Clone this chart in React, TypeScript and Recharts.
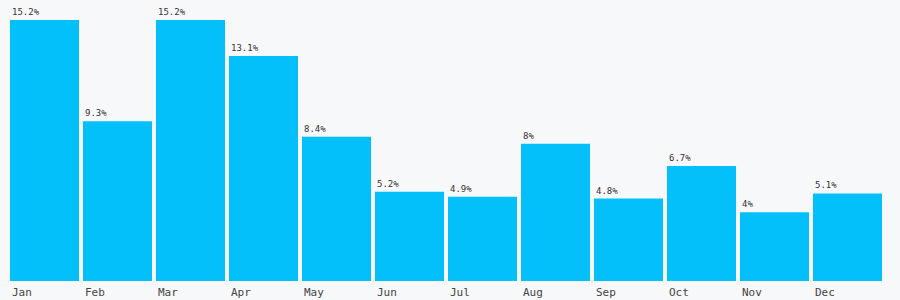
import React from "react";
import { BarChart, Bar, XAxis, YAxis, LabelList } from "recharts";

const months = ["Jan", "Feb", "Mar", "Apr", "May", "Jun", "Jul", "Aug", "Sep", "Oct", "Nov", "Dec"];
const shares = [15.2, 9.3, 15.2, 13.1, 8.4, 5.2, 4.9, 8, 4.8, 6.7, 4, 5.1];

const data = months.map((m, i) => ({ month: m, value: shares[i] }));

const W = 900;
const H = 300;
const margin = { top: 20, right: 16, left: 8, bottom: 0 };
const band = (W - margin.left - margin.right) / months.length;
const FONT = "'DejaVu Sans Mono', monospace";

const Tick = (props: any) => {
  const { x, y, payload } = props;
  return (
    <text x={x - band / 2 + 4} y={y + 7} textAnchor="start" fontFamily={FONT} fontSize={11} fill="#444">
      {payload.value}
    </text>
  );
};

const ValueLabel = (props: any) => {
  const { x, y, value } = props;
  return (
    <text x={x + 2} y={y - 5} textAnchor="start" fontFamily={FONT} fontSize={9} fill="#333">
      {value}%
    </text>
  );
};

export default function App() {
  return (
    <div style={{ position: "absolute", left: 0, top: 0, width: W, height: H, background: "#f7f8fa" }}>
      <BarChart width={W} height={H} data={data} margin={margin} barCategoryGap={2}>
        <XAxis dataKey="month" height={19} axisLine={false} tickLine={false} tick={<Tick />} interval={0} />
        <YAxis hide domain={[0, 15.2]} />
        <Bar dataKey="value" fill="#03bffa" isAnimationActive={false}>
          <LabelList dataKey="value" content={<ValueLabel />} />
        </Bar>
      </BarChart>
    </div>
  );
}
